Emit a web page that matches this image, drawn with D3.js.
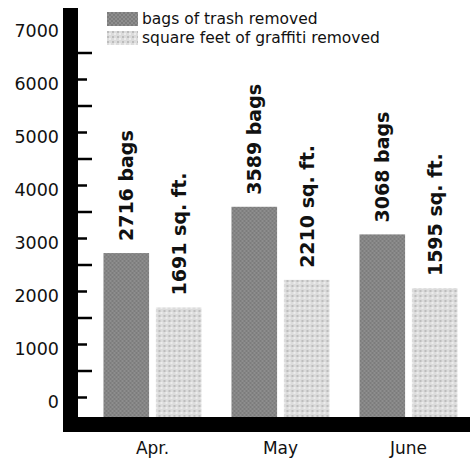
<!DOCTYPE html>
<html>
<head>
<meta charset="utf-8">
<script src="https://cdn.jsdelivr.net/npm/d3@7"></script>
<style>
  body { margin: 0; background: #fff; }
  text { font-family: "DejaVu Sans", sans-serif; fill: #111; }
</style>
</head>
<body>
<div id="graph"></div>
<script>
// data
var months = ["Apr.", "May", "June"];
var series = ["trash", "graffiti"];
var seriesNames = ["bags of trash removed", "square feet of graffiti removed"];
var trashValues = [2716, 3589, 3068];
var graffitiValues = [1691, 2210, 2055];   // June bar is drawn taller than its label
var trashLabels = ["2716 bags", "3589 bags", "3068 bags"];
var graffitiLabels = ["1691 sq. ft.", "2210 sq. ft.", "1595 sq. ft."];
var yTickLabels = [0, 1000, 2000, 3000, 4000, 5000, 6000, 7000];
var yTickMarks = [0, 500, 1000, 1500, 2000, 2500, 3000, 3500, 4000, 4500, 5000, 5500, 6000, 6500];

var width = 470, height = 460;
var baseY = 417;      // top edge of the heavy x axis
var axisX = 63;       // left edge of the heavy y axis
var axisW = 15;

var svg = d3.select("#graph").append("svg")
    .attr("width", width)
    .attr("height", height);

var defs = svg.append("defs");

// dark dithered fill
var p1 = defs.append("pattern")
    .attr("id", "trashFill")
    .attr("width", 4).attr("height", 4)
    .attr("patternUnits", "userSpaceOnUse");
p1.append("rect").attr("width", 4).attr("height", 4).attr("fill", "#8e8e8e");
p1.append("rect").attr("x", 0).attr("y", 0).attr("width", 2).attr("height", 2).attr("fill", "#7c7c7c");
p1.append("rect").attr("x", 2).attr("y", 2).attr("width", 2).attr("height", 2).attr("fill", "#7c7c7c");

// light dotted fill
var p2 = defs.append("pattern")
    .attr("id", "graffitiFill")
    .attr("width", 5).attr("height", 5)
    .attr("patternUnits", "userSpaceOnUse");
p2.append("rect").attr("width", 5).attr("height", 5).attr("fill", "#dcdcdc");
p2.append("rect").attr("x", 0).attr("y", 0).attr("width", 2).attr("height", 2).attr("fill", "#bdbdbd");
p2.append("rect").attr("x", 2).attr("y", 2).attr("width", 2).attr("height", 2).attr("fill", "#ececec");

var fills = {trash: "url(#trashFill)", graffiti: "url(#graffitiFill)"};

var yScale = d3.scaleLinear().domain([0, 7000]).range([397, 26]);

var xScale = d3.scaleBand()
    .domain(months)
    .range([88.5, 472.5])
    .paddingInner(0.234)
    .paddingOuter(0.117);

var xInner = d3.scaleBand()
    .domain(series)
    .range([0, xScale.bandwidth()])
    .paddingInner(0.13);

var rows = months.map(function(m, i) {
    return {
        month: m,
        bars: [
            {key: "trash", value: trashValues[i], label: trashLabels[i]},
            {key: "graffiti", value: graffitiValues[i], label: graffitiLabels[i]}
        ]
    };
});

// bars
var groups = svg.selectAll(".group")
    .data(rows)
    .enter()
    .append("g")
    .attr("class", "group")
    .attr("transform", function(d) { return "translate(" + xScale(d.month) + ",0)"; });

groups.selectAll("rect")
    .data(function(d) { return d.bars; })
    .enter()
    .append("rect")
    .attr("x", function(d) { return xInner(d.key); })
    .attr("y", function(d) { return yScale(d.value); })
    .attr("width", xInner.bandwidth())
    .attr("height", function(d) { return baseY - yScale(d.value); })
    .attr("fill", function(d) { return fills[d.key]; });

groups.selectAll(".vlabel")
    .data(function(d) { return d.bars; })
    .enter()
    .append("text")
    .attr("class", "vlabel")
    .attr("transform", function(d) {
        var cx = xInner(d.key) + xInner.bandwidth() / 2;
        return "translate(" + cx + "," + (yScale(d.value) - 12) + ") rotate(-90)";
    })
    .attr("dy", "0.36em")
    .style("font-size", "19px")
    .style("font-weight", "bold")
    .text(function(d) { return d.label; });

// y tick labels
var yLabelAxis = d3.axisLeft(yScale)
    .tickValues(yTickLabels)
    .tickSize(0)
    .tickPadding(0)
    .tickFormat(d3.format("d"));

var yLab = svg.append("g")
    .attr("transform", "translate(59,5)")
    .call(yLabelAxis);
yLab.select(".domain").remove();
yLab.selectAll("text")
    .style("font-size", "17.5px")
    .style("font-family", "'DejaVu Sans', sans-serif")
    .attr("fill", "#111");

// small ticks on the inside of the axis
var yTickAxis = d3.axisRight(yScale)
    .tickValues(yTickMarks)
    .tickSize(9)
    .tickFormat("");

var yTk = svg.append("g")
    .attr("transform", "translate(" + (axisX + axisW) + ",0)")
    .call(yTickAxis);
yTk.select(".domain").remove();
yTk.selectAll(".tick line")
    .attr("stroke", "#000")
    .attr("stroke-width", 2.5)
    .attr("x2", function(d) { return d % 1000 === 0 ? 9 : 14; });

// heavy axes
svg.append("rect")
    .attr("x", axisX).attr("y", 8)
    .attr("width", axisW).attr("height", baseY + 15 - 8)
    .attr("fill", "#000");
svg.append("rect")
    .attr("x", axisX).attr("y", baseY)
    .attr("width", width - axisX).attr("height", 15)
    .attr("fill", "#000");

// month labels
var xAxis = d3.axisBottom(xScale).tickSize(0).tickPadding(0);
var xg = svg.append("g")
    .attr("transform", "translate(0,442)")
    .call(xAxis);
xg.select(".domain").remove();
xg.selectAll("text")
    .style("font-size", "17px")
    .style("font-family", "'DejaVu Sans', sans-serif")
    .attr("fill", "#111");

// legend
var legend = svg.selectAll(".legend")
    .data(series)
    .enter()
    .append("g")
    .attr("class", "legend")
    .attr("transform", function(d, i) { return "translate(107," + (12 + i * 19) + ")"; });

legend.append("rect")
    .attr("width", 31)
    .attr("height", 14)
    .attr("fill", function(d) { return fills[d]; });

legend.append("text")
    .attr("x", 35)
    .attr("y", 7)
    .attr("dy", "0.35em")
    .style("font-size", "15.5px")
    .text(function(d, i) { return seriesNames[i]; });
</script>
</body>
</html>
